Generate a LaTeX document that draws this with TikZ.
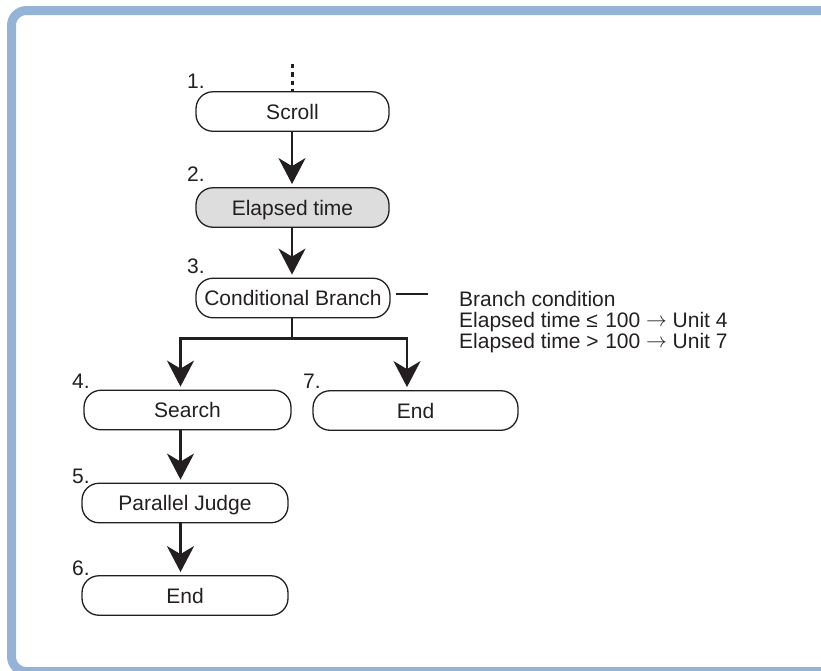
\documentclass[tikz,border=0pt]{standalone}
\usepackage{fontspec}
\setmainfont{Liberation Sans}
\usetikzlibrary{arrows.meta}
\definecolor{framecol}{RGB}{149,179,215}
\definecolor{ink}{RGB}{35,31,32}
\definecolor{grayfill}{RGB}{221,221,221}
\newcommand\cmpbox[1]{\makebox[0.62em][l]{#1}}
\newcommand\rarr{\raisebox{0.5pt}{$\rightarrow$}}
\begin{document}
\begin{tikzpicture}[x=1pt,y=-1pt,
  every node/.style={font=\fontsize{21}{25}\selectfont, text=ink},
  stepbox/.style={draw=ink, line width=1.3pt, rounded corners=17pt, minimum height=39.5pt, inner sep=0pt, text height=15pt, text depth=0pt},
  num/.style={anchor=base west, inner sep=0pt},
  flow/.style={draw=ink, line width=2.6pt, -{Stealth[length=26pt,width=27pt,inset=8pt]}, shorten >=3pt},
  plain/.style={draw=ink, line width=2.6pt}]
\useasboundingbox (0,0) rectangle (821,670);
\begin{scope}
\clip (0,0) rectangle (821,670);
\draw[framecol, line width=9pt, rounded corners=15pt] (860,10.5) -- (11.5,10.5) -- (11.5,671.5) -- (860,671.5);
\end{scope}
% steps
\node[stepbox, minimum width=193pt] (scroll) at (292.5,111.5) {Scroll};
\node[stepbox, minimum width=193pt, fill=grayfill] (elapsed) at (292.5,207.5) {Elapsed time};
\node[stepbox, minimum width=194pt] (cond) at (293,298) {Conditional Branch};
\node[stepbox, minimum width=207pt] (search) at (187.5,410) {Search};
\node[stepbox, minimum width=205pt] (end7) at (415.5,410.5) {End};
\node[stepbox, minimum width=206pt] (judge) at (185,503) {Parallel Judge};
\node[stepbox, minimum width=206pt] (end6) at (185,595.5) {End};
% numbers
\node[num] (n1) at (187,88) {1.};
\node[num] (n2) at (187,181) {2.};
\node[num] (n3) at (187,273) {3.};
\node[num] (n4) at (72,388) {4.};
\node[num] (n5) at (72,483) {5.};
\node[num] (n6) at (72,575) {6.};
\node[num] (n7) at (303,388) {7.};
% branch condition text
\node[num] (bc1) at (459,306) {Branch condition};
\node[num] (bc2) at (459,327) {Elapsed time \cmpbox{≤} 100 \rarr{} Unit 4};
\node[num] (bc3) at (459,348) {Elapsed time \cmpbox{>} 100 \rarr{} Unit 7};
% connectors
\coordinate (top) at (292,64);
\draw[draw=ink, line width=3pt, dash pattern=on 4.3pt off 4pt] (top) -- (top |- scroll.north);
\draw[flow] (scroll.south -| top) -- (elapsed.north -| top);
\draw[flow] (elapsed.south -| top) -- (cond.north -| top);
\coordinate (split) at (292,338.5);
\coordinate (lb) at (180.5,338.5);
\coordinate (rb) at (407,338.5);
\draw[plain] (cond.south -| split) -- (split);
\draw[flow] (split) -- (lb) -- (lb |- search.north);
\draw[flow] (split) -- (rb) -- (rb |- end7.north);
\draw[flow] (search.south -| lb) -- (judge.north -| lb);
\draw[flow] (judge.south -| lb) -- (end6.north -| lb);
\draw[draw=ink, line width=2pt] ([xshift=5pt,yshift=4pt]cond.east) -- ++(32,0);
\end{tikzpicture}
\end{document}
